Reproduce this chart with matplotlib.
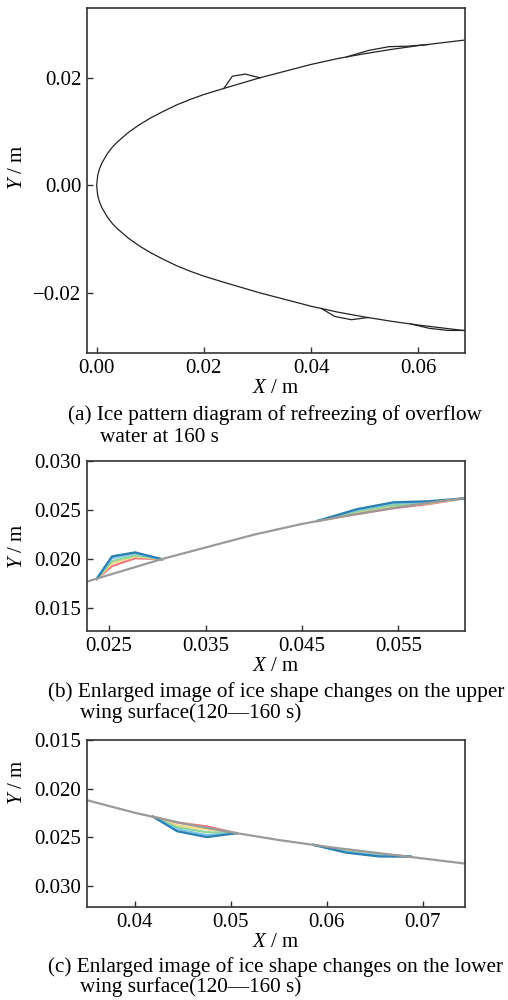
# -*- coding: utf-8 -*-

import numpy as np
import matplotlib.pyplot as plt
from matplotlib.ticker import FuncFormatter

plt.rcParams["font.family"] = ["Liberation Serif", "DejaVu Serif"]
plt.rcParams["mathtext.fontset"] = "custom"
plt.rcParams["mathtext.rm"] = "Liberation Serif"
plt.rcParams["mathtext.it"] = "Liberation Serif:italic"
plt.rcParams["axes.unicode_minus"] = True

# 翼型（上面）の読み取り値
surf_x = [0.0, 0.0002, 0.0005, 0.001, 0.002, 0.003, 0.004, 0.006, 0.008, 0.010,
          0.0125, 0.015, 0.0175, 0.020, 0.0236, 0.027, 0.0304, 0.035, 0.040,
          0.045, 0.050, 0.055, 0.060, 0.065, 0.070, 0.075]
surf_y = [0.0, 0.0019, 0.0030, 0.0042, 0.0059, 0.0072, 0.0082, 0.0099, 0.0113, 0.0125,
          0.0138, 0.0150, 0.0160, 0.0169, 0.0180, 0.0190, 0.0200, 0.0212, 0.0225,
          0.0236, 0.0245, 0.0253, 0.0260, 0.0266, 0.0272, 0.0278]

times = [120, 130, 140, 150, 160]
colors = ["#ee7b7f", "#f3dc86", "#8fd49a", "#79c6e6", "#2c7fae"]

# 上面 氷1
up1_x = [0.0237, 0.0253, 0.0277, 0.0305]
up1_y = {120: [0.0180, 0.0193, 0.0201, 0.0200],
         130: [0.0180, 0.0196, 0.0203, 0.0200],
         140: [0.0180, 0.0198, 0.0204, 0.0200],
         150: [0.0180, 0.0201, 0.0206, 0.0200],
         160: [0.0180, 0.0203, 0.0207, 0.0200]}
# 上面 氷2
up2_x = [0.0466, 0.0507, 0.0545, 0.0580, 0.0619]
up2_y = {120: [0.0239, 0.0246, 0.0252, 0.0256, 0.0262],
         130: [0.0239, 0.0247, 0.0254, 0.0257, 0.0262],
         140: [0.0239, 0.0249, 0.0255, 0.0258, 0.0262],
         150: [0.0239, 0.0250, 0.0257, 0.0258, 0.0262],
         160: [0.0239, 0.0251, 0.0258, 0.0259, 0.0262]}
# 下面 氷1（|Y|）
lo1_x = [0.0419, 0.0444, 0.0475, 0.0506]
lo1_y = {120: [0.0229, 0.0235, 0.0239, 0.0246],
         130: [0.0229, 0.0238, 0.0242, 0.0246],
         140: [0.0229, 0.0240, 0.0245, 0.0246],
         150: [0.0229, 0.0242, 0.0248, 0.0246],
         160: [0.0229, 0.0244, 0.0250, 0.0246]}
# 下面 氷2（|Y|）
lo2_x = [0.0586, 0.0620, 0.0655, 0.0687]
lo2_y = {120: [0.0258, 0.0264, 0.0268, 0.0270],
         130: [0.0258, 0.0264, 0.0268, 0.0270],
         140: [0.0258, 0.0265, 0.0269, 0.0270],
         150: [0.0258, 0.0265, 0.0269, 0.0270],
         160: [0.0258, 0.0266, 0.0270, 0.0270]}

FS = 15.0
CAP_FS = 15.3


def style_axes(ax):
    for s in ax.spines.values():
        s.set_linewidth(1.2)
        s.set_color("#333333")
    ax.tick_params(direction="in", length=4, width=1.0, labelsize=FS,
                   pad=4, top=False, right=False, color="#333333")


def main():
    fig = plt.figure(figsize=(5.08, 10.0), dpi=100)
    W, H = 508.0, 1000.0

    def add_ax(l, t, r, b):
        return fig.add_axes([l / W, 1 - b / H, (r - l) / W, (b - t) / H])

    sx = np.array(surf_x)
    sy = np.array(surf_y)
    minus = lambda v, p: f"{v:.2f}".replace("-", "\u2212")

    # (a)
    ax = add_ax(87, 8, 465, 353)
    ax.plot(np.concatenate([sx[::-1], sx[1:]]), np.concatenate([sy[::-1], -sy[1:]]),
            color="#222222", lw=0.9)
    ax.plot(up1_x, up1_y[160], color="#222222", lw=0.9)
    ax.plot(up2_x, up2_y[160], color="#222222", lw=0.9)
    ax.plot(lo1_x, -np.array(lo1_y[160]), color="#222222", lw=0.9)
    ax.plot(lo2_x, -np.array(lo2_y[160]), color="#222222", lw=0.9)
    ax.set_xlim(-0.0018, 0.0687)
    ax.set_ylim(-0.0312, 0.0330)
    ax.set_xticks([0.0, 0.02, 0.04, 0.06])
    ax.set_yticks([-0.02, 0.0, 0.02])
    ax.xaxis.set_major_formatter(FuncFormatter(minus))
    ax.yaxis.set_major_formatter(FuncFormatter(minus))
    style_axes(ax)
    ax.set_xlabel(r"$\mathit{X}$ / m", fontsize=FS, labelpad=1)
    ax.set_ylabel(r"$\mathit{Y}$ / m", fontsize=FS)
    ax.yaxis.set_label_coords(-0.16, 0.54)

    # (b)
    ax = add_ax(87, 461, 465, 631)
    for t, c in zip(times, colors):
        ax.plot(up1_x, up1_y[t], color=c, lw=1.6)
        ax.plot(up2_x, up2_y[t], color=c, lw=1.6)
    ax.plot(sx, sy, color="#9a9a9a", lw=1.6)
    ax.set_xlim(0.0227, 0.0619)
    ax.set_ylim(0.0127, 0.030)
    ax.set_xticks([0.025, 0.035, 0.045, 0.055])
    ax.set_yticks([0.015, 0.020, 0.025, 0.030])
    ax.xaxis.set_major_formatter(FuncFormatter(lambda v, p: f"{v:.3f}"))
    ax.yaxis.set_major_formatter(FuncFormatter(lambda v, p: f"{v:.3f}"))
    style_axes(ax)
    ax.set_xlabel(r"$\mathit{X}$ / m", fontsize=FS, labelpad=1)
    ax.set_ylabel(r"$\mathit{Y}$ / m", fontsize=FS)
    ax.yaxis.set_label_coords(-0.16, 0.5)

    # (c)
    ax = add_ax(87, 740, 465, 907)
    for t, c in zip(times, colors):
        ax.plot(lo1_x, -np.array(lo1_y[t]), color=c, lw=1.6)
        ax.plot(lo2_x, -np.array(lo2_y[t]), color=c, lw=1.6)
    ax.plot(sx, -sy, color="#9a9a9a", lw=1.6)
    ax.set_xlim(0.035, 0.0744)
    ax.set_ylim(-0.0322, -0.015)
    ax.set_xticks([0.04, 0.05, 0.06, 0.07])
    ax.set_yticks([-0.030, -0.025, -0.020, -0.015])
    ax.xaxis.set_major_formatter(FuncFormatter(lambda v, p: f"{v:.2f}"))
    ax.yaxis.set_major_formatter(FuncFormatter(lambda v, p: f"{abs(v):.3f}"))
    style_axes(ax)
    ax.set_xlabel(r"$\mathit{X}$ / m", fontsize=FS, labelpad=1)
    ax.set_ylabel(r"$\mathit{Y}$ / m", fontsize=FS)
    ax.yaxis.set_label_coords(-0.16, 0.75)

    # キャプション
    def cap(x, y, s):
        fig.text(x / W, 1 - y / H, s, fontsize=CAP_FS, va="center", ha="left")

    cap(68, 415, "(a) Ice pattern diagram of refreezing of overflow")
    cap(100, 437, "water at 160 s")
    cap(48, 692, "(b) Enlarged image of ice shape changes on the upper")
    cap(80, 713, "wing surface(120\u2014160 s)")
    cap(48, 967, "(c) Enlarged image of ice shape changes on the lower")
    cap(80, 987, "wing surface(120\u2014160 s)")

    fig.savefig("out.png", dpi=100)


if __name__ == "__main__":
    main()
